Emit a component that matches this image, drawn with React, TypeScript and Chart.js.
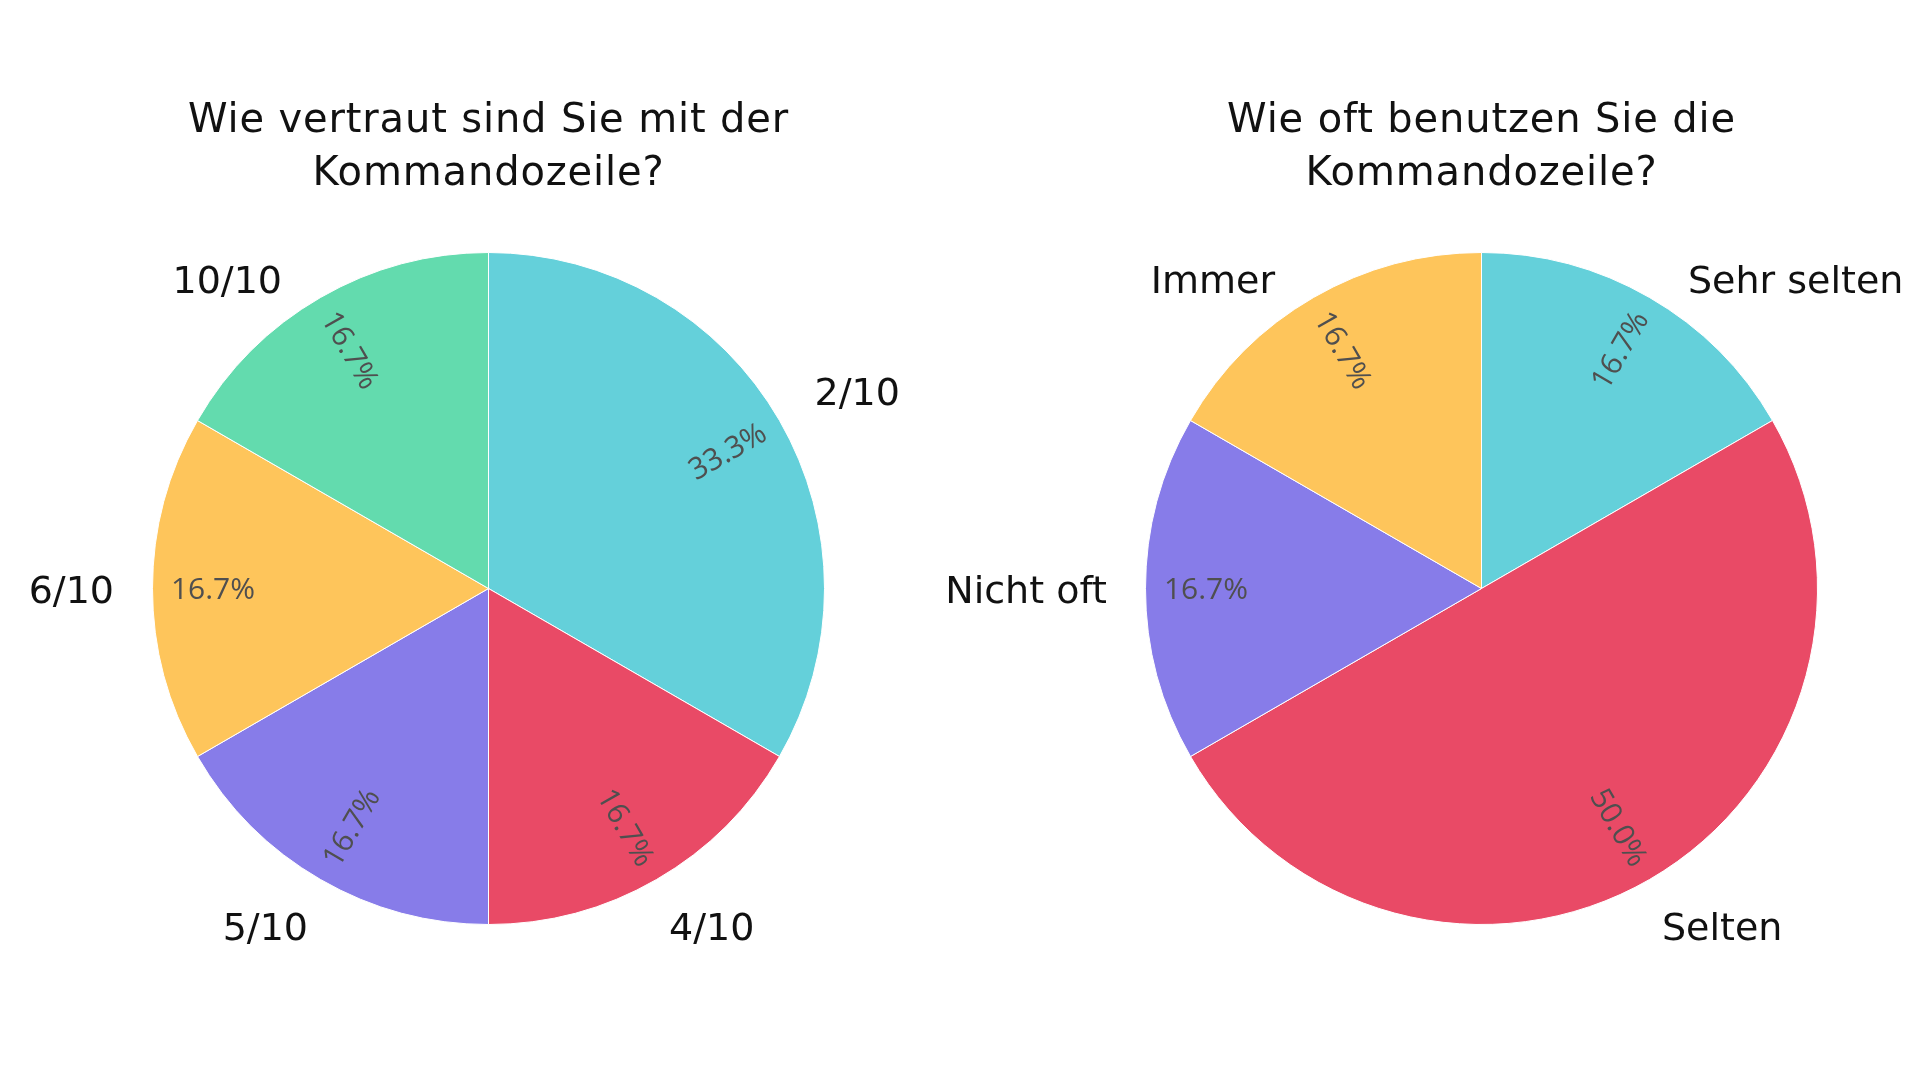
import React, { useEffect, useRef } from 'react';
import { Chart, registerables } from 'chart.js';

Chart.register(...registerables);

const leftTitle = ['Wie vertraut sind Sie mit der', 'Kommandozeile?'];
const leftLabels = ['2/10', '4/10', '5/10', '6/10', '10/10'];
const leftValues = [2, 1, 1, 1, 1];
const leftColors = ['#64D0DA', '#E94A66', '#877CE9', '#FEC55B', '#63DBAE'];

const rightTitle = ['Wie oft benutzen Sie die', 'Kommandozeile?'];
const rightLabels = ['Sehr selten', 'Selten', 'Nicht oft', 'Immer'];
const rightValues = [1, 3, 1, 1];
const rightColors = ['#64D0DA', '#E94A66', '#877CE9', '#FEC55B'];

const TITLE_FONT = '400 40px "DejaVu Sans"';
const LABEL_FONT = '400 38px "DejaVu Sans"';
const PCT_FONT = '400 30px "Open Sans"';

function makePlugin(title: string[]) {
  return {
    id: 'pieText',
    afterDatasetsDraw(chart: any) {
      const ctx: CanvasRenderingContext2D = chart.ctx;
      const meta = chart.getDatasetMeta(0);
      const data = chart.data.datasets[0].data as number[];
      const labels = chart.data.labels as string[];
      const total = data.reduce((a, b) => a + b, 0);
      let cx = 0;
      meta.data.forEach((arc: any, i: number) => {
        const p = arc.getProps(['x', 'y', 'startAngle', 'endAngle', 'outerRadius'], true);
        cx = p.x;
        const R = p.outerRadius;
        const mid = (p.startAngle + p.endAngle) / 2;
        const ux = Math.cos(mid);
        const uy = Math.sin(mid);
        // percentage text, radial orientation
        const pr = R * 0.82;
        const px = p.x + ux * pr;
        const py = p.y + uy * pr;
        let rot = Math.atan2(uy, ux);
        if (rot > Math.PI / 2) rot -= Math.PI;
        if (rot < -Math.PI / 2) rot += Math.PI;
        ctx.save();
        ctx.translate(px, py);
        ctx.rotate(rot);
        ctx.font = PCT_FONT;
        ctx.fillStyle = '#4f4f4f';
        ctx.textAlign = 'center';
        ctx.textBaseline = 'alphabetic';
        const pct = ((data[i] / total) * 100).toFixed(1) + '%';
        ctx.fillText(pct, 0, 10.5);
        ctx.restore();

        // outside label
        ctx.save();
        ctx.font = LABEL_FONT;
        ctx.fillStyle = '#111111';
        ctx.textAlign = 'center';
        ctx.textBaseline = 'alphabetic';
        const label = labels[i];
        const w = ctx.measureText(label).width;
        const h = 50;
        const mx = ux * R;
        const my = Math.abs(uy) < 1e-6 ? 0 : uy * R;
        let dx = w / 2;
        let dy = h / 2;
        if (mx < 0) dx = -dx;
        if (my < 0) dy = -dy;
        const tx = dx + (Math.abs(dy) * (dx > 0 ? 1 : -1)) / 2;
        const ty = my === 0 ? 0 : dy / (1 + (mx * mx) / (my * my));
        let ex = 0;
        let ey = 0;
        if (Math.abs(ux) >= Math.abs(uy)) {
          ex = ux * 26; ey = uy * 46;
        } else if (uy < 0) {
          ex = Math.sign(ux) * 26;
        } else {
          ey = 28;
        }
        const lx = p.x + mx + tx + ex;
        const ly = p.y + my + ty + ey;
        ctx.fillText(label, lx, ly + 14);
        ctx.restore();
      });

      // title
      ctx.save();
      ctx.font = TITLE_FONT;
      (ctx as any).letterSpacing = '0.85px';
      ctx.fillStyle = '#111111';
      ctx.textAlign = 'center';
      ctx.textBaseline = 'alphabetic';
      ctx.fillText(title[0], cx, 132);
      ctx.fillText(title[1], cx, 185);
      ctx.restore();
    },
  };
}

function PieChart(props: { labels: string[]; values: number[]; colors: string[]; title: string[]; pad: any }) {
  const ref = useRef<HTMLCanvasElement | null>(null);
  useEffect(() => {
    if (!ref.current) return;
    const chart = new Chart(ref.current, {
      type: 'pie',
      data: {
        labels: props.labels,
        datasets: [
          {
            data: props.values,
            backgroundColor: props.colors,
            borderColor: '#ffffff',
            borderWidth: 1,
          },
        ],
      },
      options: {
        responsive: false,
        animation: false,
        devicePixelRatio: 1,
        layout: { padding: props.pad },
        plugins: {
          legend: { display: false },
          tooltip: { enabled: false },
          title: { display: false },
        },
      },
      plugins: [makePlugin(props.title)],
    });
    return () => chart.destroy();
  }, []);
  return (
    <canvas
      ref={ref}
      width={1920}
      height={1080}
      style={{ position: 'absolute', left: 0, top: 0, width: 1920, height: 1080 }}
    />
  );
}

export default function App() {
  return (
    <div style={{ position: 'fixed', left: 0, top: 0, width: 1920, height: 1080, background: '#ffffff' }}>
      <PieChart
        labels={leftLabels}
        values={leftValues}
        colors={leftColors}
        title={leftTitle}
        pad={{ left: 152, right: 1095, top: 252, bottom: 155 }}
      />
      <PieChart
        labels={rightLabels}
        values={rightValues}
        colors={rightColors}
        title={rightTitle}
        pad={{ left: 1145, right: 102, top: 252, bottom: 155 }}
      />
    </div>
  );
}
